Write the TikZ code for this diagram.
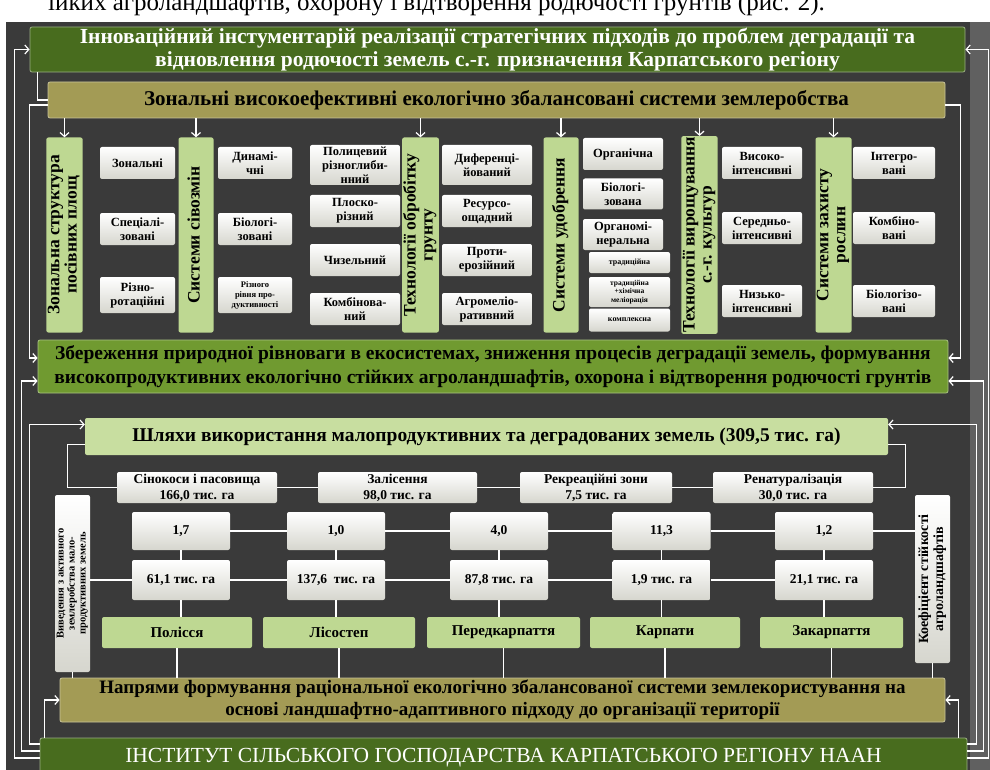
\documentclass[tikz,border=0pt]{standalone}
\usepackage{fontspec}
\setmainfont{Liberation Serif}
\usepackage{xcolor}
\usepackage{graphicx}
\usetikzlibrary{arrows.meta}
\usetikzlibrary{positioning}

\definecolor{bgdark}{RGB}{58,58,58}
\definecolor{bgside}{RGB}{96,96,96}
\definecolor{topgreen}{RGB}{72,108,30}
\definecolor{olive}{RGB}{163,155,85}
\definecolor{midgreen}{RGB}{112,154,48}
\definecolor{colgreen}{RGB}{190,216,146}
\definecolor{palegreen}{RGB}{200,222,160}
\definecolor{boxshade}{RGB}{214,214,206}

\newcommand{\vtxt}[1]{\rotatebox{90}{\begin{tabular}{@{}c@{}}#1\end{tabular}}}

\begin{document}
\begin{tikzpicture}[x=1pt,y=-1pt]
  \tikzset{box/.style = {shape=rectangle,rounded corners=2pt,inner sep=1pt,align=center}}
  \tikzset{greenhead/.style = {box,fill=topgreen,draw=topgreen!55!white,line width=0.8pt,text=white,font=\bfseries\fontsize{21.5}{23}\selectfont}}
  \tikzset{olivebox/.style = {box,fill=olive,draw=olive!60!white,line width=0.8pt,font=\bfseries\fontsize{21}{22}\selectfont}}
  \tikzset{colbox/.style = {box,fill=colgreen,minimum width=35,minimum height=195,font=\bfseries\fontsize{17.5}{17}\selectfont}}
  \tikzset{wbox/.style = {box,top color=white,bottom color=boxshade,minimum height=32,font=\bfseries\fontsize{12.5}{14}\selectfont}}
  \tikzset{abox/.style = {wbox,minimum height=31,font=\bfseries\fontsize{13.5}{16}\selectfont}}
  \tikzset{nbox/.style = {wbox,minimum width=98,font=\bfseries\fontsize{13.5}{16}\selectfont}}
  \tikzset{regbox/.style = {box,fill=colgreen,minimum height=31,font=\bfseries\fontsize{15}{16}\selectfont}}
  \tikzset{link/.style = {draw=white,line width=1.2pt}}
  \tikzset{arr/.style = {link,-{Straight Barb[length=4pt,width=9pt]}}}

  % page and background
  \useasboundingbox (0,0) rectangle (990,770);
  \fill[white] (0,0) rectangle (990,22);
  \fill[bgdark] (6,22) rectangle (990,770);
  \fill[bgside] (970,22) rectangle (990,770);
  \node[anchor=base west,inner sep=0,font=\fontsize{25}{27}\selectfont] (cap) at (48,11) {ійких агроландшафтів, охорону і відтворення родючості грунтів (рис. 2).};

  % head boxes
  \node[greenhead,minimum width=935,minimum height=45] (top) at (497.5,49.5) {Інноваційний інстументарій реалізації стратегічних підходів до проблем деградації та\\відновлення родючості земель с.-г. призначення Карпатського регіону};
  \node[olivebox,minimum width=897,minimum height=36] (zon) at (496.5,100) {Зональні високоефективні екологічно збалансовані системи землеробства};

  % columns
  \node[colbox] (c1) at (64.5,235) {\vtxt{Зональна структура\\посівних площ}};
  \node[colbox] (c2) at (196,235) {\vtxt{Системи сівозмін}};
  \node[colbox] (c3) at (420.5,235) {\vtxt{Технології обробітку\\грунту}};
  \node[colbox] (c4) at (561,235) {\vtxt{Системи удобрення}};
  \node[colbox] (c5) at (699.5,235) {\vtxt{Технології вирощування\\с.-г. культур}};
  \node[colbox] (c6) at (833.5,235) {\vtxt{Системи захисту\\рослин}};

  \node[wbox,minimum width=75] (z1) at (137.5,163) {Зональні};
  \node[wbox,minimum width=75] (z2) at (137.5,229) {Спеціалі-\\зовані};
  \node[wbox,minimum width=75,minimum height=36] (z3) at (137.5,295) {Різно-\\ротаційні};

  \node[wbox,minimum width=74] (s1) at (255,163) {Динамі-\\чні};
  \node[wbox,minimum width=74] (s2) at (255,229) {Біологі-\\зовані};
  \node[wbox,minimum width=74,minimum height=36,font=\bfseries\fontsize{8.5}{10}\selectfont] (s3) at (255,295) {Різного\\рівня про-\\дуктивності};

  \node[wbox,minimum width=90,minimum height=40] (o1) at (355,165) {Полицевий\\різноглиби-\\нний};
  \node[wbox,minimum width=90] (o2) at (355,211) {Плоско-\\різний};
  \node[wbox,minimum width=90] (o3) at (355,260) {Чизельний};
  \node[wbox,minimum width=90] (o4) at (355,309) {Комбінова-\\ний};

  \node[wbox,minimum width=90,minimum height=40] (p1) at (487,165) {Диференці-\\йований};
  \node[wbox,minimum width=90] (p2) at (487,211) {Ресурсо-\\ощадний};
  \node[wbox,minimum width=90] (p3) at (487,260) {Проти-\\ерозійний};
  \node[wbox,minimum width=90] (p4) at (487,309) {Агромеліо-\\ративний};

  \node[wbox,minimum width=80] (u1) at (623,154) {Органічна};
  \node[wbox,minimum width=80,minimum height=31] (u2) at (623,194) {Біологі-\\зована};
  \node[wbox,minimum width=80,minimum height=31] (u3) at (623,234.5) {Органомі-\\неральна};
  \node[wbox,minimum width=81,minimum height=21,font=\bfseries\fontsize{8}{9}\selectfont] (u4) at (629.5,262.5) {традиційна};
  \node[wbox,minimum width=81,minimum height=30,font=\bfseries\fontsize{7.5}{8.5}\selectfont] (u5) at (629.5,292) {традиційна\\+хімічна\\меліорація};
  \node[wbox,minimum width=81,minimum height=23,font=\bfseries\fontsize{8}{9}\selectfont] (u6) at (629.5,320) {комплексна};

  \node[wbox,minimum width=80] (v1) at (762,163) {Високо-\\інтенсивні};
  \node[wbox,minimum width=80] (v2) at (762,228) {Середньо-\\інтенсивні};
  \node[wbox,minimum width=80] (v3) at (762,301) {Низько-\\інтенсивні};

  \node[wbox,minimum width=82] (w1) at (894,163) {Інтегро-\\вані};
  \node[wbox,minimum width=82] (w2) at (894,228) {Комбіно-\\вані};
  \node[wbox,minimum width=82] (w3) at (894,301) {Біологізо-\\вані};

  % middle boxes
  \node[box,fill=midgreen,draw=midgreen!60!white,line width=0.8pt,minimum width=910,minimum height=53,font=\bfseries\fontsize{19.5}{24}\selectfont] (zber) at (493,366.5) {Збереження природної рівноваги в екосистемах, зниження процесів деградації земель, формування\\високопродуктивних екологічно стійких агроландшафтів, охорона і відтворення родючості грунтів};
  \node[box,fill=palegreen,minimum width=803,minimum height=37,font=\bfseries\fontsize{19.5}{20}\selectfont] (shl) at (486.5,436.5) {Шляхи використання малопродуктивних та деградованих земель (309,5 тис. га)};

  \node[abox,minimum width=160] (a1) at (197,487.5) {Сінокоси і пасовища\\166,0 тис. га};
  \node[abox,minimum width=159] (a2) at (397.5,487.5) {Залісення\\98,0 тис. га};
  \node[abox,minimum width=152] (a3) at (596,487.5) {Рекреаційні зони\\7,5 тис. га};
  \node[abox,minimum width=160] (a4) at (793,487.5) {Ренатуралізація\\30,0 тис. га};

  \node[nbox,minimum height=38] (b1) at (181,531) {1,7};
  \node[nbox,minimum height=38] (b2) at (336,531) {1,0};
  \node[nbox,minimum height=38] (b3) at (499,531) {4,0};
  \node[nbox,minimum height=38] (b4) at (661.5,531) {11,3};
  \node[nbox,minimum height=38] (b5) at (824,531) {1,2};

  \node[nbox,minimum height=40] (e1) at (181,580) {61,1 тис. га};
  \node[nbox,minimum height=40] (e2) at (336,580) {137,6\ \ тис. га};
  \node[nbox,minimum height=40] (e3) at (499,580) {87,8 тис. га};
  \node[nbox,minimum height=40] (e4) at (661.5,580) {1,9 тис. га};
  \node[nbox,minimum height=40] (e5) at (824,580) {21,1 тис. га};

  \node[regbox,minimum width=150] (r1) at (177,632.5) {Полісся};
  \node[regbox,minimum width=152] (r2) at (339,632.5) {Лісостеп};
  \node[regbox,minimum width=153] (r3) at (503.5,632.5) {Передкарпаття};
  \node[regbox,minimum width=150] (r4) at (665,632.5) {Карпати};
  \node[regbox,minimum width=143] (r5) at (831.5,632.5) {Закарпаття};

  \node[wbox,minimum width=35,minimum height=177,font=\bfseries\fontsize{10.5}{11}\selectfont] (vyv) at (72.5,583.5) {\vtxt{Виведення з активного\\землеробства мало-\\продуктивних земель}};
  \node[wbox,minimum width=35,minimum height=168,font=\bfseries\fontsize{14}{15}\selectfont] (koef) at (932.5,579) {\vtxt{Коефіцієнт стійкості\\агроландшафтів}};

  % bottom boxes
  \node[olivebox,minimum width=885,minimum height=44,font=\bfseries\fontsize{19}{22}\selectfont] (nap) at (502.5,700) {Напрями формування раціональної екологічно збалансованої системи землекористування на\\основі ландшафтно-адаптивного підходу до організації території};
  \node[greenhead,minimum width=927,minimum height=40,font=\fontsize{21.5}{23}\selectfont] (inst) at (503.5,758) {ІНСТИТУТ СІЛЬСЬКОГО ГОСПОДАРСТВА КАРПАТСЬКОГО РЕГІОНУ НААН};

  % connectors, upper part
  \draw[link] ([xshift=8pt]top.south west) |- (zon.west);
  \draw[arr] ([yshift=-5pt]zon.west) -- ++(-18,0) |- ([yshift=8.5pt]zber.west);
  \draw[arr] ([yshift=-5pt]zon.east) -- ++(15,0) |- ([yshift=8.5pt]zber.east);
  \foreach \to in {c1,c2,c3,c4,c5,c6}
    \draw[arr] (\to.north |- zon.south) -- (\to.north);

  % feedback from the institute
  \draw[arr] (inst.west) -- ++(-25,0) |- (top.west);
  \draw[arr] ([yshift=7pt]inst.west) -- ++(-18,0) |- ([yshift=-14.5pt]zber.west);
  \draw[arr] ([yshift=14pt]inst.west) -- ++(-10,0) |- ([yshift=12pt]shl.west);
  \draw[arr] ([xshift=5pt]inst.north west) |- (nap.west);
  \draw[arr] (inst.east) -- ++(21,0) |- (top.east);
  \draw[arr] ([yshift=7pt]inst.east) -- ++(16,0) |- ([yshift=-14.5pt]zber.east);
  \draw[arr] ([yshift=14pt]inst.east) -- ++(9,0) |- ([yshift=12pt]shl.east);
  \draw[arr] ([xshift=-9pt]inst.north east) |- (nap.east);

  % lower part
  \draw[link] ([yshift=-8pt]shl.west) -- ++(-17,0) |- (a1.west);
  \draw[link] ([yshift=-8pt]shl.east) -- ++(17,0) |- (a4.east);
  \foreach \from/\to in {a1/a2,a2/a3,a3/a4,b1/b2,b2/b3,b3/b4,b4/b5,e1/e2,e2/e3,e3/e4,e4/e5}
    \draw[link] (\from) -- (\to);
  \draw[link] (b5.east) -- (b5.east -| koef.west);
  \draw[link] (e1.west -| vyv.east) -- (e1.west);
  \foreach \n in {1,2,3,4,5}{
    \draw[link] (b\n.south) -- (e\n.north);
    \draw[link] (e\n.south) -- (e\n.south |- r\n.north);
    \draw[link] (r\n.south) -- (r\n.south |- nap.north);
  }
  \draw[link] (vyv.south) -- (vyv.south |- nap.north);
  \draw[link] (koef.south) -- (koef.south |- nap.north);
\end{tikzpicture}
\end{document}
